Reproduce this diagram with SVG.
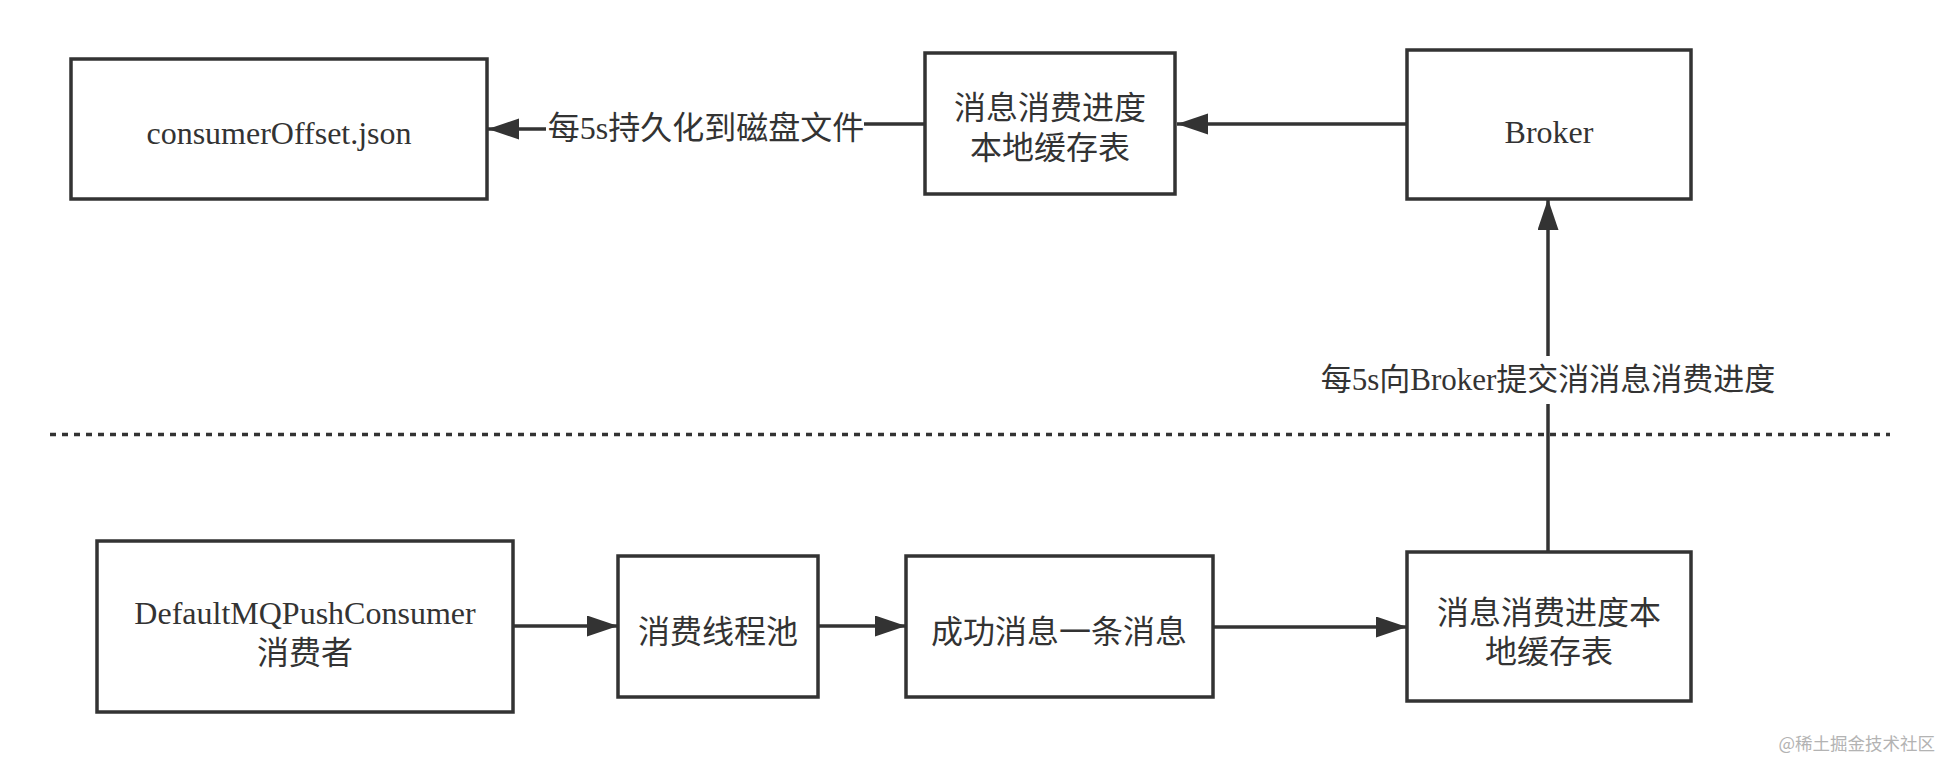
<svg xmlns="http://www.w3.org/2000/svg" width="1944" height="761" viewBox="0 0 1944 761">
  <style>
    .box { fill: #ffffff; stroke: #333333; stroke-width: 3.5; }
    .edge { fill: none; stroke: #333333; stroke-width: 3.5; }
    .t { font-family: "Liberation Serif", "Noto Sans CJK SC", serif; font-size: 32px; fill: #333333; text-anchor: middle; dominant-baseline: central; }
    .lbl { font-family: "Liberation Serif", "Noto Sans CJK SC", serif; fill: #333333; text-anchor: middle; dominant-baseline: central; }
    .lblbg { fill: #ffffff; }
    .wm { font-family: "Noto Sans CJK SC", sans-serif; font-size: 17.5px; fill: #b3b3b3; text-anchor: end; dominant-baseline: central; }
  </style>
  <defs>
    <marker id="arrow" markerUnits="userSpaceOnUse" markerWidth="32" markerHeight="22" refX="31" refY="10.5" orient="auto">
      <path d="M0,0 L31,10.5 L0,21 Z" fill="#333333"/>
    </marker>
  </defs>
  <rect width="1944" height="761" fill="#ffffff"/>

  <g id="connectors">
    <path class="edge" d="M1407,124 L1177,124" marker-end="url(#arrow)"/>
    <path class="edge" d="M925,124 L706,124 L706,129 L488,129" marker-end="url(#arrow)"/>
    <path class="edge" d="M513,626 L618,626" marker-end="url(#arrow)"/>
    <path class="edge" d="M818,626 L906,626" marker-end="url(#arrow)"/>
    <path class="edge" d="M1213,627 L1407,627" marker-end="url(#arrow)"/>
    <path class="edge" d="M1548,552 L1548,199" marker-end="url(#arrow)"/>
    <g id="label-persist">
      <rect class="lblbg" x="546" y="110" width="318" height="38"/>
      <text class="lbl" x="706" y="128" font-size="32">每5s持久化到磁盘文件</text>
    </g>
    <g id="label-commit">
      <rect class="lblbg" x="1308" y="356" width="480" height="48"/>
      <text class="lbl" x="1548" y="379" font-size="31">每5s向Broker提交消消息消费进度</text>
    </g>
  </g>

  <line x1="50" y1="434.5" x2="1890" y2="434.5" stroke="#333333" stroke-width="3.5" stroke-dasharray="6 6"/>

  <g id="node-consumerOffset">
    <rect class="box" x="71" y="59" width="416" height="140"/>
    <text class="t" x="279" y="133">consumerOffset.json</text>
  </g>
  <g id="node-localCacheTop">
    <rect class="box" x="925" y="53" width="250" height="141"/>
    <text class="t" x="1050" y="108">消息消费进度</text>
    <text class="t" x="1050" y="148">本地缓存表</text>
  </g>
  <g id="node-broker">
    <rect class="box" x="1407" y="50" width="284" height="149"/>
    <text class="t" x="1549" y="132">Broker</text>
  </g>
  <g id="node-consumer">
    <rect class="box" x="97" y="541" width="416" height="171"/>
    <text class="t" x="305" y="613">DefaultMQPushConsumer</text>
    <text class="t" x="305" y="653">消费者</text>
  </g>
  <g id="node-threadpool">
    <rect class="box" x="618" y="556" width="200" height="141"/>
    <text class="t" x="718" y="632">消费线程池</text>
  </g>
  <g id="node-success">
    <rect class="box" x="906" y="556" width="307" height="141"/>
    <text class="t" x="1059" y="632">成功消息一条消息</text>
  </g>
  <g id="node-localCacheBottom">
    <rect class="box" x="1407" y="552" width="284" height="149"/>
    <text class="t" x="1549" y="613">消息消费进度本</text>
    <text class="t" x="1549" y="652">地缓存表</text>
  </g>

  <text class="wm" x="1935" y="742">@稀土掘金技术社区</text>
</svg>
